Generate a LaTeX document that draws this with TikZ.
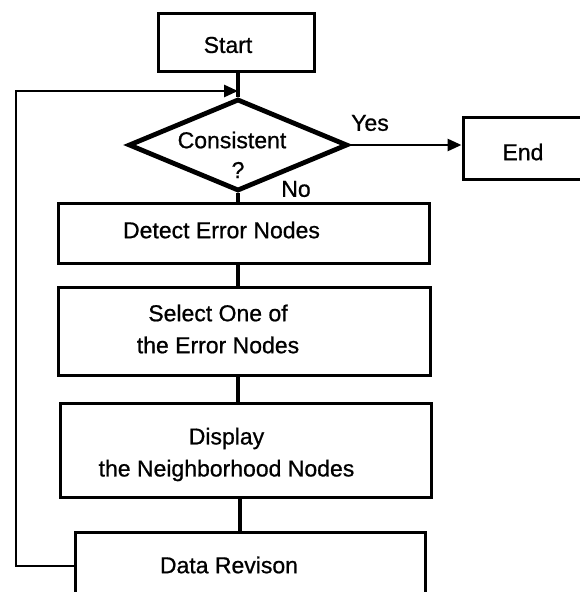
\documentclass[tikz,border=0pt]{standalone}
\usepackage{fontspec}
\setmainfont[FakeBold=0.8]{Liberation Sans}
\usetikzlibrary{arrows.meta, shapes.geometric}
\begin{document}
\begin{tikzpicture}[x=1pt, y=-1pt,
  box/.style={draw, line width=3pt, inner sep=0pt},
  txt/.style={font=\fontsize{23}{32}\selectfont, align=center, inner sep=0pt},
  conn/.style={line width=3.2pt},
  arr/.style={line width=2.8pt, -{Triangle[length=14pt, width=12pt]}}]
\useasboundingbox (0,0) rectangle (580,592);

\node[box, minimum width=156pt, minimum height=58pt,
      label={[txt, xshift=-8pt, yshift=-3pt]center:Start}] (start) at (236,42) {};
\node[diamond, draw, line width=4.8pt, minimum width=219pt, minimum height=92pt, inner sep=0pt] (dec) at (238,145) {};
\node[txt] (qtext) at (232,140) {Consistent};
\node[txt] (qmark) at (238,170) {?};
\node[txt] (yes) at (370,123) {Yes};
\node[txt] (no) at (296,189) {No};
\node[box, minimum width=138pt, minimum height=62pt,
      label={[txt, xshift=-9pt, yshift=-4pt]center:End}] (endn) at (532,148) {};
\node[box, minimum width=371pt, minimum height=60pt,
      label={[txt, xshift=-22pt, yshift=3pt]center:Detect Error Nodes}] (detect) at (243.5,233) {};
\node[box, minimum width=372pt, minimum height=88pt,
      label={[txt, xshift=-26pt, yshift=2pt]center:Select One of\\the Error Nodes}] (select) at (244,331) {};
\node[box, minimum width=371pt, minimum height=94pt,
      label={[txt, xshift=-19pt, yshift=-4pt]center:Display\\the Neighborhood Nodes}] (display) at (245.5,450.5) {};
\node[box, minimum width=350pt, minimum height=68pt,
      label={[txt, xshift=-21pt, yshift=1pt]center:Data Revison}] (data) at (250,566) {};

\coordinate (join) at (238,91);
\coordinate (lefttop) at (16,91);
\coordinate (leftbot) at (16,566);

\draw[conn] (dec.north |- start.south) -- (dec.north);
\draw[arr] (dec.east) -- (endn.west |- dec.east);
\draw[conn] (dec.south) -- (dec.south |- detect.north);
\draw[conn] (dec.south |- detect.south) -- (dec.south |- select.north);
\draw[conn] (dec.south |- select.south) -- (dec.south |- display.north);
\draw[conn] ([xshift=2pt]dec.south |- display.south) -- ([xshift=2pt]dec.south |- data.north);
\draw[arr] (data.west) -- (leftbot) -- (lefttop) -- (join);
\end{tikzpicture}
\end{document}
